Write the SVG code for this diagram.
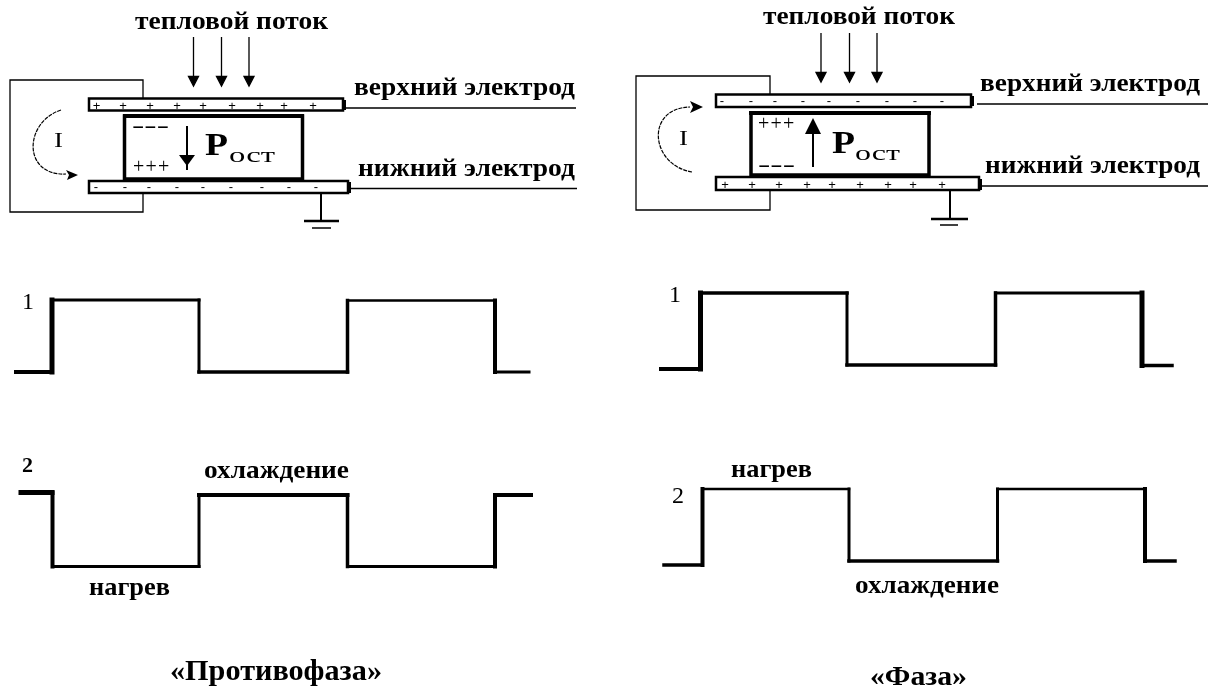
<svg xmlns="http://www.w3.org/2000/svg" width="1216" height="691" viewBox="0 0 1216 691">
<style>
text{font-family:"Liberation Serif","DejaVu Serif",serif;fill:#000;filter:url(#n)}
.b{font-weight:bold;font-size:25px}
.m{font-family:"Liberation Sans",sans-serif;font-size:13px;text-anchor:middle}
.d{font-size:18px;font-weight:bold}
.pl{font-size:20px}
.thin{fill:none;stroke:#000;stroke-width:1.3}
.dash{fill:none;stroke:#000;stroke-width:1.2;stroke-dasharray:4 1}
.el{fill:#fff;stroke:#000;stroke-width:2.500}
.blk{fill:none;stroke:#000;stroke-width:3.500}
.p{font-weight:bold;font-size:31px}
.s{font-size:22px}
.line{stroke:#000;stroke-width:1.500;fill:none}
.gnd{stroke:#000;fill:none}
.w{fill:none;stroke:#000;stroke-linecap:square}
.n{font-size:24px}
.i{font-size:20px}
</style>
<defs><filter id="n" x="-5%" y="-5%" width="110%" height="110%"><feOffset dx="0" dy="0"/></filter></defs>
<rect width="1216" height="691" fill="#fff"/>
<g id="connectors">
<path class="thin" d="M143 98V80H10V212H143V193"/>
<path class="thin" d="M770 94V76H636V210H770V191"/>
<path class="line" d="M346 108H576M350 188.500H577M977 104H1208M982 186H1208"/>
<g class="thin">
<path d="M193.500 37V85M221.500 37V85M249 37V85M821 33V81M849.500 33V81M877 33V81"/>
<path d="M193.500 76.500L188.500 76.500L193.500 86L198.500 76.500ZM221.500 76.500L216.500 76.500L221.500 86L226.500 76.500ZM249 76.500L244 76.500L249 86L254 76.500ZM821 72.500L816 72.500L821 82L826 72.500ZM849.500 72.500L844.500 72.500L849.500 82L854.500 72.500ZM877 72.500L872 72.500L877 82L882 72.500Z" fill="#000"/>
</g>
<path class="dash" d="M61 110C24 122 22 176 66 174"/>
<path d="M66 170L78 175L67 180L69 175Z"/>
<path class="dash" d="M692 172C650 165 645 108 690 107"/>
<path d="M690 101L703 107L690 113L693 107Z"/>
<path class="gnd" stroke-width="2" d="M321 193V221"/>
<path class="gnd" stroke-width="2.500" d="M304 221H339"/>
<path class="gnd" stroke-width="1.500" d="M312 228H331"/>
<path class="gnd" stroke-width="2" d="M950 191V219"/>
<path class="gnd" stroke-width="2.500" d="M931 219H968"/>
<path class="gnd" stroke-width="1.500" d="M940 225H958"/>
</g>
<g id="left-cell">
<rect class="el" x="89" y="98.500" width="254" height="12"/>
<rect class="el" x="89" y="181" width="259" height="12"/>
<rect class="blk" x="124.500" y="116" width="178" height="63"/>
<path d="M123 114H304V118H123Z"/>
<path class="gnd" stroke-width="3" d="M344.500 100V110M349.500 182V193"/>
<text class="m" x="96.500 123 150 177 203 232 260 284 313" y="109.500">+++++++++</text>
<text class="m" x="96 125 149 177 203 231 262 289 316" y="191">---------</text>
<text class="d" x="132" y="132" textLength="37" lengthAdjust="spacingAndGlyphs">---</text>
<text class="pl" x="133 145.500 158" y="173">+++</text>
<path stroke="#000" stroke-width="2" d="M187 126V170"/>
<path d="M179 155H195L187 166Z"/>
<text class="p" x="205" y="155" textLength="23" lengthAdjust="spacingAndGlyphs">Р</text>
<text class="s" x="229" y="162" textLength="46" lengthAdjust="spacingAndGlyphs">ост</text>
<text class="i" x="54" y="147" textLength="9" lengthAdjust="spacingAndGlyphs">I</text>
</g>
<g id="right-cell">
<rect class="el" x="716" y="94.500" width="255" height="12.500"/>
<rect class="el" x="716" y="177" width="263" height="13"/>
<rect class="blk" x="751" y="113" width="178" height="62"/>
<path d="M749 111H931V115H749Z"/>
<path class="gnd" stroke-width="3" d="M972.500 96V106M980.500 179V190"/>
<text class="m" x="722 751 775 803 829 858 887 915 942" y="105">---------</text>
<text class="m" x="725 752 779 807 832 860 888 913 942" y="188.500">+++++++++</text>
<text class="pl" x="758 770.500 783" y="130">+++</text>
<text class="d" x="758" y="171" textLength="37" lengthAdjust="spacingAndGlyphs">---</text>
<path stroke="#000" stroke-width="2" d="M813 167V122"/>
<path d="M805 134H821L813 118Z"/>
<text class="p" x="832" y="153" textLength="23" lengthAdjust="spacingAndGlyphs">Р</text>
<text class="s" x="855" y="160" textLength="45" lengthAdjust="spacingAndGlyphs">ост</text>
<text class="i" x="679" y="145" textLength="9" lengthAdjust="spacingAndGlyphs">I</text>
</g>
<g id="waves">
<g class="w">
<path stroke-width="4" d="M16 372H51"/><path stroke-width="5" d="M52 372V300"/><path stroke-width="3" d="M52 300H199"/><path stroke-width="3" d="M199 300V372"/><path stroke-width="3.500" d="M199 372H347.500"/><path stroke-width="3.500" d="M347.500 372V300.500"/><path stroke-width="2.500" d="M347.500 300.500H495"/><path stroke-width="4" d="M495 300.500V372"/><path stroke-width="3" d="M495 372H529"/>
</g>
<g class="w">
<path stroke-width="5" d="M21 492.500H52"/><path stroke-width="4" d="M52.500 492.500V566.500"/><path stroke-width="3" d="M52.500 566.500H199"/><path stroke-width="3" d="M199 566.500V495"/><path stroke-width="4" d="M199 495H347.500"/><path stroke-width="3.500" d="M347.500 495V566.500"/><path stroke-width="3" d="M347.500 566.500H495"/><path stroke-width="4" d="M495 566.500V495"/><path stroke-width="4" d="M495 495H531"/>
</g>
<g class="w">
<path stroke-width="4" d="M661 369H700"/><path stroke-width="5" d="M700.500 369V293"/><path stroke-width="3.500" d="M700.500 293H847"/><path stroke-width="3" d="M847 293V365"/><path stroke-width="3.500" d="M847 365H995.500"/><path stroke-width="3.500" d="M995.500 365V293"/><path stroke-width="3" d="M995.500 293H1142"/><path stroke-width="5" d="M1142 293V365.500"/><path stroke-width="3.500" d="M1142 365.500H1172"/>
</g>
<g class="w">
<path stroke-width="3.500" d="M664 565H702"/><path stroke-width="4" d="M702.500 565V489"/><path stroke-width="2.500" d="M702.500 489H849"/><path stroke-width="3" d="M849 489V561"/><path stroke-width="3.500" d="M849 561H997.500"/><path stroke-width="3" d="M997.500 561V489"/><path stroke-width="2.500" d="M997.500 489H1145"/><path stroke-width="4" d="M1145 489V561"/><path stroke-width="3.500" d="M1145 561H1175"/>
</g>
</g>
<g id="labels">
<text class="b" x="135" y="29" textLength="193" lengthAdjust="spacingAndGlyphs">тепловой поток</text>
<text class="b" x="763" y="24" textLength="192" lengthAdjust="spacingAndGlyphs">тепловой поток</text>
<text class="b" x="354" y="95" textLength="221" lengthAdjust="spacingAndGlyphs">верхний электрод</text>
<text class="b" x="358" y="176" textLength="217" lengthAdjust="spacingAndGlyphs">нижний электрод</text>
<text class="b" x="980" y="91" textLength="220" lengthAdjust="spacingAndGlyphs">верхний электрод</text>
<text class="b" x="985" y="173" textLength="215" lengthAdjust="spacingAndGlyphs">нижний электрод</text>
<text class="b" x="204" y="478" textLength="145" lengthAdjust="spacingAndGlyphs">охлаждение</text>
<text class="b" x="89" y="595" textLength="81" lengthAdjust="spacingAndGlyphs">нагрев</text>
<text class="b" x="731" y="477" textLength="81" lengthAdjust="spacingAndGlyphs">нагрев</text>
<text class="b" x="855" y="593" textLength="144" lengthAdjust="spacingAndGlyphs">охлаждение</text>
<text class="n" x="22" y="309">1</text>
<text x="22" y="472" style="font-size:22px;font-weight:bold">2</text>
<text class="n" x="669" y="302">1</text>
<text class="n" x="672" y="503">2</text>
<text x="170" y="680" style="font-size:30px;font-weight:bold" textLength="212" lengthAdjust="spacingAndGlyphs">«Противофаза»</text>
<text x="870" y="685" style="font-size:28px;font-weight:bold" textLength="97" lengthAdjust="spacingAndGlyphs">«Фаза»</text>
</g>
</svg>
